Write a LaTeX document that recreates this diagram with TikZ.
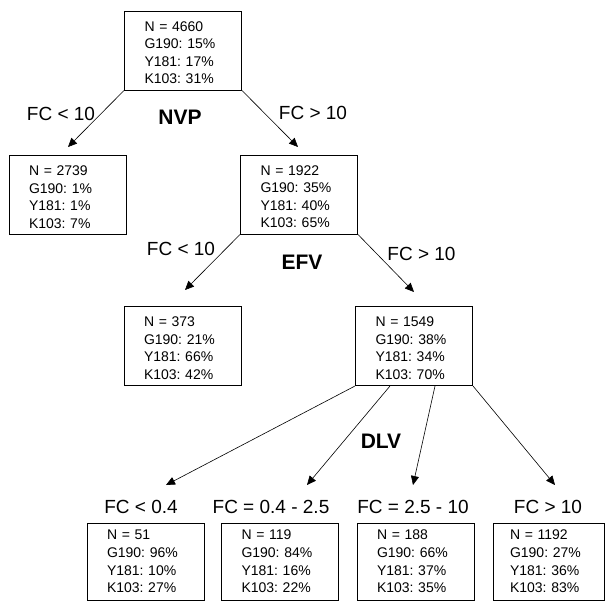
\documentclass[tikz,border=0pt]{standalone}
\usepackage{fontspec}
\setmainfont{Liberation Sans}
\usetikzlibrary{arrows.meta}
\newcommand\firstln{\rule{0pt}{14pt}}
\begin{document}
\begin{tikzpicture}[x=1pt,y=1pt,
  box/.style={draw, line width=1pt, rectangle, minimum width=117pt, minimum height=79pt,
    text width=77pt, inner xsep=20pt, inner ysep=0pt, align=left,
    font=\fontsize{14}{17.6}\selectfont\frenchspacing},
  bbox/.style={box, minimum height=77pt},
  cond/.style={anchor=base, inner sep=0pt, font=\fontsize{19}{22}\selectfont\frenchspacing},
  drug/.style={anchor=base, inner sep=0pt, font=\fontsize{21}{24}\selectfont\bfseries},
  arr/.style={line width=0.6pt, -{Triangle[length=9pt,width=8pt]}}
]
\useasboundingbox (0,0) rectangle (605,-603);
% boxes
\node[box] (root) at (183,-50.5) {\firstln N = 4660\\G190: 15\%\\Y181: 17\%\\K103: 31\%};
\node[box] (n2739) at (67.5,-195) {\firstln N = 2739\\G190: 1\%\\Y181: 1\%\\K103: 7\%};
\node[box] (n1922) at (299,-194.5) {\firstln N = 1922\\G190: 35\%\\Y181: 40\%\\K103: 65\%};
\node[box] (n373) at (182.5,-346) {\firstln N = 373\\G190: 21\%\\Y181: 66\%\\K103: 42\%};
\node[box] (n1549) at (414,-346) {\firstln N = 1549\\G190: 38\%\\Y181: 34\%\\K103: 70\%};
\node[bbox] (n51) at (145.5,-561.5) {N = 51\\G190: 96\%\\Y181: 10\%\\K103: 27\%};
\node[bbox] (n119) at (280,-561.5) {N = 119\\G190: 84\%\\Y181: 16\%\\K103: 22\%};
\node[bbox] (n188) at (415.5,-561.5) {N = 188\\G190: 66\%\\Y181: 37\%\\K103: 35\%};
\node[bbox, minimum width=111pt, inner xsep=17pt] (n1192) at (548.5,-561.5) {N = 1192\\G190: 27\%\\Y181: 36\%\\K103: 83\%};
% labels
\node[cond] (c1) at (61,-120) {FC < 10};
\node[drug] (nvp) at (180,-124) {NVP};
\node[cond] (c2) at (313,-119) {FC > 10};
\node[cond] (c3) at (181,-255) {FC < 10};
\node[drug] (efv) at (302,-269) {EFV};
\node[cond] (c4) at (421.5,-260) {FC > 10};
\node[drug] (dlv) at (381,-448) {DLV};
\node[cond] (c5) at (141,-513) {FC < 0.4};
\node[cond] (c6) at (271,-513) {FC = 0.4 - 2.5};
\node[cond] (c7) at (413,-513) {FC = 2.5 - 10};
\node[cond] (c8) at (548,-513) {FC > 10};
% arrow ends
\coordinate (t1) at (68,-147);
\coordinate (t2) at (298,-147);
\coordinate (t3) at (185,-290);
\coordinate (t4) at (414,-292);
\coordinate (t5) at (166,-485);
\coordinate (t6) at (307,-485);
\coordinate (t7) at (413,-485);
\coordinate (t8) at (555,-485);
\draw[arr] (root.south west) -- (t1);
\draw[arr] (root.south east) -- (t2);
\draw[arr] (n1922.south west) -- (t3);
\draw[arr] (n1922.south east) -- (t4);
\draw[arr] (n1549.south west) -- (t5);
\draw[arr] ([xshift=35pt]n1549.south west) -- (t6);
\draw[arr] ([xshift=80pt]n1549.south west) -- (t7);
\draw[arr] (n1549.south east) -- (t8);
\end{tikzpicture}
\end{document}
